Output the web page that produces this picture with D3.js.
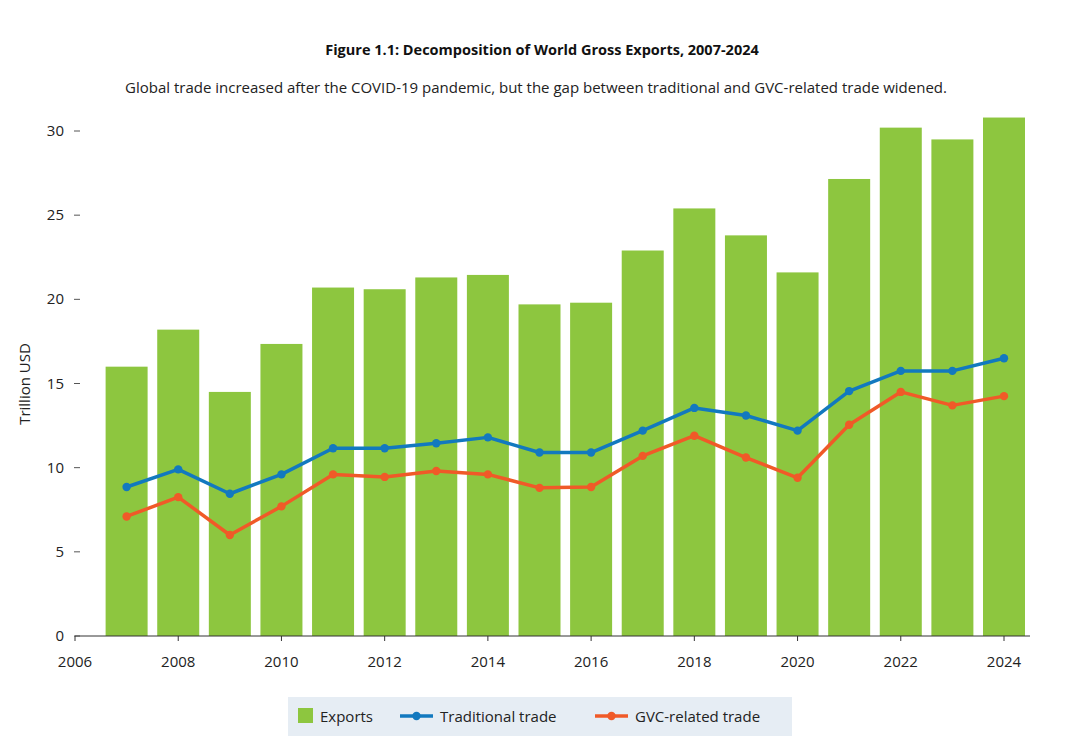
<!DOCTYPE html>
<html><head><meta charset="utf-8">
<script src="https://cdn.jsdelivr.net/npm/d3@7"></script>
<style>body{margin:0;background:#fff;font-family:"Open Sans",sans-serif;}</style>
</head><body>
<svg id="c" width="1084" height="747"></svg>
<script>
const years=[2007,2008,2009,2010,2011,2012,2013,2014,2015,2016,2017,2018,2019,2020,2021,2022,2023,2024];
const exportsV=[16.0,18.2,14.5,17.35,20.7,20.6,21.3,21.45,19.7,19.8,22.9,25.4,23.8,21.6,27.15,30.2,29.5,30.8];
const traditional=[8.85,9.9,8.45,9.6,11.15,11.15,11.45,11.8,10.9,10.9,12.2,13.55,13.1,12.2,14.55,15.75,15.75,16.5];
const gvc=[7.1,8.25,6.0,7.7,9.6,9.45,9.8,9.6,8.8,8.85,10.7,11.9,10.6,9.4,12.55,14.5,13.7,14.25];
const xTicks=[2006,2008,2010,2012,2014,2016,2018,2020,2022,2024];
const yTicks=[0,5,10,15,20,25,30];
const svg=d3.select("#c");
const x=d3.scaleLinear().domain([2006,2024]).range([75,1004]);
const y=d3.scaleLinear().domain([0,30]).range([636,131]);
const bw=42;
svg.append("text").attr("x",542).attr("y",55).attr("text-anchor","middle").attr("font-weight","bold").attr("font-size",14.5).attr("fill","#111").text("Figure 1.1: Decomposition of World Gross Exports, 2007-2024");
svg.append("text").attr("x",536).attr("y",93).attr("text-anchor","middle").attr("font-size",15).attr("fill","#222").text("Global trade increased after the COVID-19 pandemic, but the gap between traditional and GVC-related trade widened.");
svg.selectAll("rect.b").data(years).join("rect").attr("x",d=>x(d)-bw/2).attr("width",bw).attr("y",(d,i)=>y(exportsV[i])).attr("height",(d,i)=>y(0)-y(exportsV[i])).attr("fill","#8dc63f");
svg.append("line").attr("x1",75).attr("x2",1030).attr("y1",y(0)).attr("y2",y(0)).attr("stroke","#333").attr("stroke-width",1);
const ya=svg.append("g");
yTicks.forEach(t=>{
 ya.append("line").attr("x1",74).attr("x2",80).attr("y1",y(t)).attr("y2",y(t)).attr("stroke","#555");
 ya.append("text").attr("x",64).attr("y",y(t)+5).attr("text-anchor","end").attr("font-size",15).attr("fill","#222").text(t);
});
xTicks.forEach(t=>{
 svg.append("line").attr("x1",x(t)).attr("x2",x(t)).attr("y1",636).attr("y2",641).attr("stroke","#333");
 svg.append("text").attr("x",x(t)).attr("y",667).attr("text-anchor","middle").attr("font-size",15).attr("fill","#222").text(t);
});
svg.append("text").attr("transform","translate(30,384) rotate(-90)").attr("text-anchor","middle").attr("font-size",15).attr("fill","#222").text("Trillion USD");
function series(vals,col){
 const line=d3.line().x((d,i)=>x(years[i])).y(d=>y(d));
 svg.append("path").datum(vals).attr("d",line).attr("fill","none").attr("stroke",col).attr("stroke-width",3.5).attr("stroke-linejoin","round");
 svg.selectAll(null).data(vals).join("circle").attr("cx",(d,i)=>x(years[i])).attr("cy",d=>y(d)).attr("r",4.2).attr("fill",col);
}
series(gvc,"#f05a28");
series(traditional,"#1279bf");
const lg=svg.append("g");
lg.append("rect").attr("x",288).attr("y",697).attr("width",504).attr("height",39).attr("fill","#e6edf4");
lg.append("rect").attr("x",298).attr("y",708).attr("width",15).attr("height",15).attr("fill","#8dc63f");
lg.append("text").attr("x",320).attr("y",722).attr("font-size",15).attr("fill","#222").text("Exports");
[[400,"#1279bf","Traditional trade"],[595,"#f05a28","GVC-related trade"]].forEach(([lx,c,t])=>{
 lg.append("line").attr("x1",lx).attr("x2",lx+33).attr("y1",716).attr("y2",716).attr("stroke",c).attr("stroke-width",3.5);
 lg.append("circle").attr("cx",lx+16.5).attr("cy",716).attr("r",4.2).attr("fill",c);
 lg.append("text").attr("x",lx+40).attr("y",722).attr("font-size",15).attr("fill","#222").text(t);
});
</script></body></html>
